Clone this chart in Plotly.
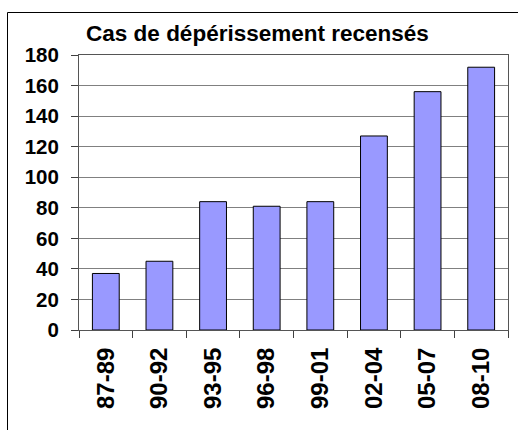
import plotly.graph_objects as go

categories = ["87-89", "90-92", "93-95", "96-98", "99-01", "02-04", "05-07", "08-10"]
values = [37, 45, 84, 81, 84, 127, 156, 172]
y_ticks = [0, 20, 40, 60, 80, 100, 120, 140, 160, 180]
title_text = "Cas de dépérissement recensés"

fig = go.Figure()
fig.add_trace(go.Bar(
    x=categories, y=values,
    marker=dict(color="#9999FF", line=dict(color="#000000", width=1)),
))

fig.update_layout(
    width=518, height=430,
    margin=dict(l=79, r=10, t=55, b=100, autoexpand=False),
    paper_bgcolor="white", plot_bgcolor="white",
    bargap=0.5, showlegend=False,
    font=dict(family="Liberation Sans, Arial", color="black"),
    title=dict(text="<b>" + title_text + "</b>", x=0.497, xref="container",
               y=1 - 33 / 430, yref="container", xanchor="center", yanchor="middle",
               font=dict(size=22.5, color="black"), automargin=False),
)
fig.update_xaxes(
    type="category", tickangle=-90, tickson="boundaries",
    ticks="outside", ticklen=7, tickcolor="#404040",
    showline=True, linecolor="#555555", mirror=True, linewidth=1,
    tickfont=dict(size=24, color="black", family="Liberation Sans, Arial"),
    ticklabelstandoff=7, showgrid=False, automargin=False,
    tickvals=categories, ticktext=[f"<b>{c}</b>" for c in categories],
)
fig.update_yaxes(
    range=[0, 180], tickvals=y_ticks, ticktext=[f"<b>{v}</b>" for v in y_ticks],
    ticks="outside", ticklen=7, tickcolor="#404040",
    showline=True, linecolor="#555555", mirror=True, linewidth=1,
    showgrid=True, gridcolor="#808080", gridwidth=1,
    tickfont=dict(size=20.5, color="black", family="Liberation Sans, Arial"),
    ticklabelstandoff=8, zeroline=False, automargin=False,
)

# outer chart-area border (extends past the right and bottom edges)
fig.add_shape(type="rect", xref="paper", yref="paper",
              x0=(7.5 - 79) / 429, x1=(525 - 79) / 429,
              y0=(330 - 440) / 275, y1=(330 - 12.5) / 275,
              line=dict(color="black", width=1), fillcolor="rgba(0,0,0,0)", layer="below")

fig.write_html("out.html", config={"displayModeBar": False},
               post_script="document.body.style.margin='0';document.body.style.overflow='hidden';")
